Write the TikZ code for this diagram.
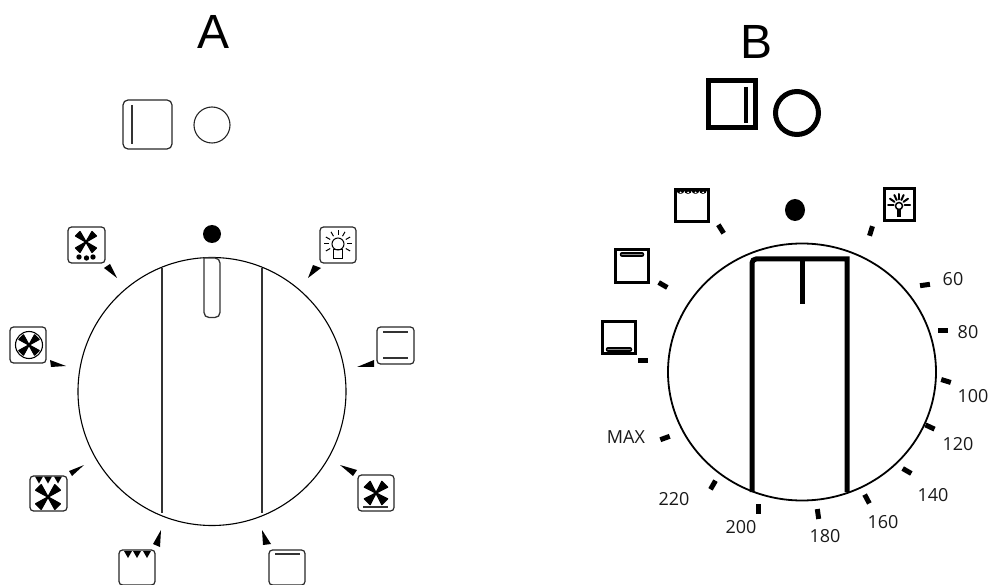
\documentclass[tikz,border=0pt]{standalone}
\usepackage{fontspec}
\setmainfont{Liberation Sans}
\newfontfamily\scalefont{Open Sans}
\usetikzlibrary{positioning}
\tikzset{
	headtext/.style={font=\fontsize{48}{48}\selectfont},
	scaletext/.style={font=\scalefont\fontsize{18}{18}\selectfont, text=black!90},
	iconbox/.style={draw, line width=1.2pt, rounded corners=3.5pt, black!85},
	iconboxb/.style={draw, line width=3pt},
	dialline/.style={line width=1.3pt, black!80},
	framesB/.style={line width=5pt},
	tickB/.style={line width=5pt}
}
% four fan blades around a centre: x, y, radius, half width of blade
\newcommand{\fanblades}[4]{
	\foreach \ang in {45,135,225,315} {
		\filldraw[line width=1.4pt, line join=round] (#1,#2)
			-- ++({\ang-#4}:#3) -- ++({\ang+90}:{2*#3*sin(#4)}) -- cycle;
	}
}
% row of three small teeth under the top edge of a box
\newcommand{\teethrow}[4]{
	\foreach \tx in {#1,#2,#3} {
		\fill (\tx-4,#4) -- (\tx+4,#4) -- (\tx,#4+7) -- cycle;
	}
}
\begin{document}
\begin{tikzpicture}[x=1pt,y=-1pt]
	\useasboundingbox (0,0) rectangle (991,585);

	% ---- A ----
	\node[headtext] (labelA) at (214,32) {A};
	\draw[iconbox, rounded corners=5pt] (123,100) rectangle (172,149);
	\draw[dialline] (132,105) -- (132,144);
	\draw[line width=1.1pt, black!85] (212,125) circle (18);

	\draw[line width=1.1pt] (212,391.5) circle (134);
	\draw[dialline] (162,268) -- (162,513);
	\draw[dialline] (262,268) -- (262,513);
	\draw[dialline, fill=white, rounded corners=5pt] (204,258) -- (204,317.5) -- (220,317.5) -- (220,258) [sharp corners] -- cycle;
	\fill (212,234) circle (9);

	% arrow marks around dial A
	\fill (117,278) -- (104,268) -- (110,264) -- cycle;
	\fill (66,366) -- (50,360) -- (51,367) -- cycle;
	\fill (84,465) -- (69,471) -- (72,476) -- cycle;
	\fill (161,530) -- (153,544) -- (160,547) -- cycle;
	\fill (308,278) -- (313,265) -- (321,268) -- cycle;
	\fill (357,367) -- (374,360) -- (374,367) -- cycle;
	\fill (340,465) -- (357,470) -- (353,476) -- cycle;
	\fill (262,530) -- (263,545) -- (271,544) -- cycle;

	% icons of A
	\draw[iconbox] (68,227) rectangle (105,263);
	\fanblades{86}{242}{12}{15}
	\fill (79,257) circle (2.7) (86.5,258) circle (2.7) (93,257) circle (2.7);

	\draw[iconbox] (10,327) rectangle (46,363);
	\draw[line width=1.1pt] (29,345) circle (13.5);
	\fanblades{29}{345}{11.5}{16}

	\draw[iconbox] (30,476) rectangle (67,511);
	\teethrow{39}{48}{58}{476.5}
	\fanblades{48}{497}{14}{16}

	\draw[iconbox] (119,550) rectangle (155,585);
	\teethrow{128}{137}{147}{551}

	\draw[iconbox] (320,227) rectangle (356,263);
	\draw[line width=1pt] (338,244) circle (6);
	\draw[line width=1pt] (333.5,249.5) rectangle (342.5,259);
	\foreach \ang in {30,0,-30,-60,-90,-120,-150,-180,-210} {
		\draw[line width=1pt] (338,244) ++(\ang:9) -- ++(\ang:5);
	}

	\draw[iconbox] (377,327) rectangle (414,364);
	\draw[dialline] (383,332) -- (408,332);
	\draw[dialline] (383,358) -- (408,358);

	\draw[iconbox] (358,475) rectangle (394,511);
	\fanblades{376}{493}{13}{18}
	\draw[dialline] (363,507) -- (388,507);

	\draw[iconbox] (269,550) rectangle (305,585);
	\draw[dialline] (275,554) -- (300,554);

	% ---- B ----
	\node[headtext] (labelB) at (757,42) {B};
	\draw[framesB] (708.5,80.5) rectangle (755.5,127.5);
	\draw[line width=4.5pt] (746,87) -- (746,123);
	\draw[framesB] (797,113) circle (21.5);

	\draw[line width=1.8pt] (802,372) ellipse (134 and 128.5);
	\draw[framesB, rounded corners=4pt] (752,492) -- (752,259) [sharp corners] -- (847,259) -- (847,492);
	\draw[framesB] (802,259) -- (802,304);
	\fill (795,210) ellipse (10 and 11);

	% ticks of B: x, y, angle
	\foreach \tx/\ty/\ang in {721/229/58, 663/285/30, 643/361/0, 871/231/-73, 925/285/-8,
		943/331/0, 946/381/17, 930/427/25, 907/471/30, 867/499/62, 818/514/82,
		758/509/90, 713/485/-60, 665/438/-20} {
		\draw[tickB] (\tx,\ty) ++(\ang:-5) -- ++(\ang:10);
	}

	\node[scaletext] (t60) at (953,279) {60};
	\node[scaletext] (t80) at (968,332) {80};
	\node[scaletext] (t100) at (973,396) {100};
	\node[scaletext] (t120) at (958,444) {120};
	\node[scaletext] (t140) at (933,495) {140};
	\node[scaletext] (t160) at (883,522) {160};
	\node[scaletext] (t180) at (825,536) {180};
	\node[scaletext] (t200) at (741,527) {200};
	\node[scaletext] (t220) at (674,499) {220};
	\node[scaletext] (tmax) at (626,437) {MAX};

	% icons of B
	\draw[iconboxb] (675.5,189.5) rectangle (708.5,221.5);
	\foreach \tx in {680.5,688,695.5,703} {
		\fill (\tx-4,190) -- (\tx+4,190) arc[start angle=0, end angle=180, radius=4] -- cycle;
		\fill[white] (\tx,192.5) circle (1);
	}
	\draw[iconboxb] (615.5,249.5) rectangle (648.5,282.5);
	\draw[line width=4.5pt, line cap=round] (622,254.5) -- (642,254.5);
	\draw[line width=1.5pt, black!45, line cap=round] (622,254.5) -- (642,254.5);
	\draw[iconboxb] (602.5,321.5) rectangle (635.5,353.5);
	\draw[line width=4.5pt, line cap=round] (608,349.5) -- (630,349.5);
	\draw[line width=1.5pt, black!45, line cap=round] (608,349.5) -- (630,349.5);
	\draw[iconboxb] (884.5,188.5) rectangle (914.5,220.5);
	\draw[line width=1.5pt] (899,206) circle (3.5);
	\fill (897,209) rectangle (901,217);
	\foreach \ang in {0,-35,-65,-90,-115,-145,-180} {
		\draw[line width=2pt, line cap=round] (899,205) ++(\ang:5.5) -- ++(\ang:5.5);
	}
\end{tikzpicture}
\end{document}
